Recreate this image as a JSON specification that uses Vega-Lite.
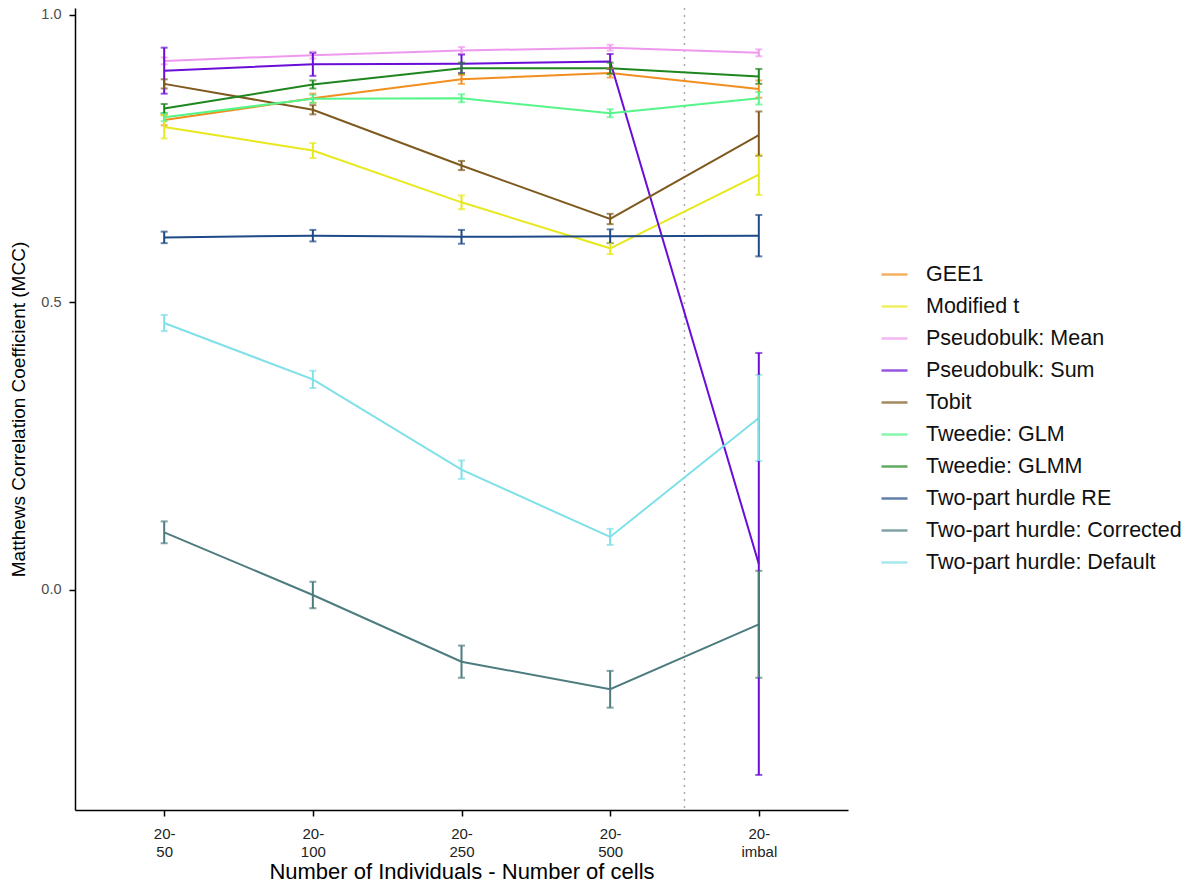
{
  "$schema": "https://vega.github.io/schema/vega-lite/v6.json",
  "width": 773,
  "height": 802,
  "autosize": "none",
  "padding": {"left": 75, "top": 8, "right": 349, "bottom": 75},
  "background": "white",
  "config": {
    "view": {"stroke": null},
    "font": "Liberation Sans",
    "axis": {"grid": false, "domainColor": "black", "domainWidth": 1.5, "tickColor": "black", "tickWidth": 1.5, "tickSize": 6, "labelFont": "Liberation Sans", "titleFont": "Liberation Sans", "titleFontWeight": "normal", "titleColor": "black"}
  },
  "data": {"values": [
    {"series": "GEE1", "x": 1, "mcc": 0.817, "lo": 0.808, "hi": 0.826},
    {"series": "GEE1", "x": 2, "mcc": 0.855, "lo": 0.847, "hi": 0.863},
    {"series": "GEE1", "x": 3, "mcc": 0.888, "lo": 0.880, "hi": 0.896},
    {"series": "GEE1", "x": 4, "mcc": 0.899, "lo": 0.891, "hi": 0.907},
    {"series": "GEE1", "x": 5, "mcc": 0.871, "lo": 0.856, "hi": 0.886},
    {"series": "Modified t", "x": 1, "mcc": 0.805, "lo": 0.785, "hi": 0.825},
    {"series": "Modified t", "x": 2, "mcc": 0.764, "lo": 0.751, "hi": 0.777},
    {"series": "Modified t", "x": 3, "mcc": 0.674, "lo": 0.662, "hi": 0.686},
    {"series": "Modified t", "x": 4, "mcc": 0.594, "lo": 0.584, "hi": 0.604},
    {"series": "Modified t", "x": 5, "mcc": 0.722, "lo": 0.687, "hi": 0.757},
    {"series": "Pseudobulk: Mean", "x": 1, "mcc": 0.920, "lo": 0.914, "hi": 0.926},
    {"series": "Pseudobulk: Mean", "x": 2, "mcc": 0.930, "lo": 0.924, "hi": 0.936},
    {"series": "Pseudobulk: Mean", "x": 3, "mcc": 0.938, "lo": 0.932, "hi": 0.944},
    {"series": "Pseudobulk: Mean", "x": 4, "mcc": 0.943, "lo": 0.938, "hi": 0.948},
    {"series": "Pseudobulk: Mean", "x": 5, "mcc": 0.934, "lo": 0.928, "hi": 0.940},
    {"series": "Pseudobulk: Sum", "x": 1, "mcc": 0.903, "lo": 0.863, "hi": 0.943},
    {"series": "Pseudobulk: Sum", "x": 2, "mcc": 0.914, "lo": 0.894, "hi": 0.934},
    {"series": "Pseudobulk: Sum", "x": 3, "mcc": 0.915, "lo": 0.899, "hi": 0.931},
    {"series": "Pseudobulk: Sum", "x": 4, "mcc": 0.919, "lo": 0.906, "hi": 0.932},
    {"series": "Pseudobulk: Sum", "x": 5, "mcc": 0.045, "lo": -0.322, "hi": 0.412},
    {"series": "Tobit", "x": 1, "mcc": 0.880, "lo": 0.872, "hi": 0.888},
    {"series": "Tobit", "x": 2, "mcc": 0.835, "lo": 0.827, "hi": 0.843},
    {"series": "Tobit", "x": 3, "mcc": 0.738, "lo": 0.730, "hi": 0.746},
    {"series": "Tobit", "x": 4, "mcc": 0.645, "lo": 0.636, "hi": 0.654},
    {"series": "Tobit", "x": 5, "mcc": 0.791, "lo": 0.755, "hi": 0.832},
    {"series": "Tweedie: GLM", "x": 1, "mcc": 0.822, "lo": 0.815, "hi": 0.829},
    {"series": "Tweedie: GLM", "x": 2, "mcc": 0.854, "lo": 0.847, "hi": 0.861},
    {"series": "Tweedie: GLM", "x": 3, "mcc": 0.855, "lo": 0.848, "hi": 0.862},
    {"series": "Tweedie: GLM", "x": 4, "mcc": 0.829, "lo": 0.822, "hi": 0.836},
    {"series": "Tweedie: GLM", "x": 5, "mcc": 0.855, "lo": 0.844, "hi": 0.866},
    {"series": "Tweedie: GLMM", "x": 1, "mcc": 0.837, "lo": 0.829, "hi": 0.845},
    {"series": "Tweedie: GLMM", "x": 2, "mcc": 0.879, "lo": 0.872, "hi": 0.886},
    {"series": "Tweedie: GLMM", "x": 3, "mcc": 0.907, "lo": 0.897, "hi": 0.917},
    {"series": "Tweedie: GLMM", "x": 4, "mcc": 0.907, "lo": 0.897, "hi": 0.917},
    {"series": "Tweedie: GLMM", "x": 5, "mcc": 0.893, "lo": 0.880, "hi": 0.906},
    {"series": "Two-part hurdle RE", "x": 1, "mcc": 0.613, "lo": 0.603, "hi": 0.623},
    {"series": "Two-part hurdle RE", "x": 2, "mcc": 0.616, "lo": 0.606, "hi": 0.626},
    {"series": "Two-part hurdle RE", "x": 3, "mcc": 0.614, "lo": 0.602, "hi": 0.626},
    {"series": "Two-part hurdle RE", "x": 4, "mcc": 0.615, "lo": 0.603, "hi": 0.627},
    {"series": "Two-part hurdle RE", "x": 5, "mcc": 0.616, "lo": 0.580, "hi": 0.652},
    {"series": "Two-part hurdle: Corrected", "x": 1, "mcc": 0.100, "lo": 0.081, "hi": 0.119},
    {"series": "Two-part hurdle: Corrected", "x": 2, "mcc": -0.009, "lo": -0.032, "hi": 0.014},
    {"series": "Two-part hurdle: Corrected", "x": 3, "mcc": -0.125, "lo": -0.153, "hi": -0.097},
    {"series": "Two-part hurdle: Corrected", "x": 4, "mcc": -0.173, "lo": -0.205, "hi": -0.141},
    {"series": "Two-part hurdle: Corrected", "x": 5, "mcc": -0.060, "lo": -0.153, "hi": 0.033},
    {"series": "Two-part hurdle: Default", "x": 1, "mcc": 0.464, "lo": 0.450, "hi": 0.478},
    {"series": "Two-part hurdle: Default", "x": 2, "mcc": 0.366, "lo": 0.351, "hi": 0.381},
    {"series": "Two-part hurdle: Default", "x": 3, "mcc": 0.209, "lo": 0.193, "hi": 0.225},
    {"series": "Two-part hurdle: Default", "x": 4, "mcc": 0.092, "lo": 0.078, "hi": 0.106},
    {"series": "Two-part hurdle: Default", "x": 5, "mcc": 0.299, "lo": 0.224, "hi": 0.374}
  ]},
  "layer": [
    {
      "data": {"values": [{"sep": 4.5}]},
      "mark": {"type": "rule", "color": "#AAAAAA", "strokeWidth": 1.5, "strokeDash": [2, 5]},
      "encoding": {"x": {"field": "sep", "type": "quantitative", "scale": {"domain": [0.4, 5.6], "nice": false, "zero": false}}}
    },
    {
      "mark": {"type": "line", "strokeWidth": 2},
      "encoding": {
        "x": {"field": "x", "type": "quantitative", "scale": {"domain": [0.4, 5.6], "nice": false, "zero": false},
          "axis": {"values": [1, 2, 3, 4, 5], "title": "Number of Individuals - Number of cells", "titleFontSize": 22, "titlePadding": 2,
            "labelExpr": "['20-', ['50','100','250','500','imbal'][datum.value-1]]", "labelFontSize": 15, "labelColor": "#222222", "labelLineHeight": 18, "labelPadding": 10}},
        "y": {"field": "mcc", "type": "quantitative", "scale": {"domain": [-0.383, 1.012], "nice": false, "zero": false},
          "axis": {"values": [0, 0.5, 1], "format": ".1f", "title": "Matthews Correlation Coefficient (MCC)", "titleFontSize": 19, "titlePadding": 12, "labelFontSize": 14.5, "labelColor": "#4d4d4d", "labelPadding": 8}},
        "color": {"field": "series", "type": "nominal",
          "scale": {"domain": ["GEE1", "Modified t", "Pseudobulk: Mean", "Pseudobulk: Sum", "Tobit", "Tweedie: GLM", "Tweedie: GLMM", "Two-part hurdle RE", "Two-part hurdle: Corrected", "Two-part hurdle: Default"],
            "range": ["#F28E1E", "#E8E81E", "#EE99EE", "#6A0DD6", "#7F5A1E", "#55F58A", "#1E861E", "#1E4A87", "#4D7C7F", "#7FE0E8"]},
          "legend": {"title": null, "orient": "none", "legendX": 805, "legendY": 252, "symbolType": "stroke", "symbolSize": 676, "symbolStrokeWidth": 2.5, "rowPadding": 7, "labelFontSize": 21.5, "labelLimit": 0, "labelFont": "Liberation Sans", "labelColor": "#111111", "labelOffset": 17}}
      }
    },
    {
      "mark": {"type": "errorbar", "thickness": 2, "ticks": {"size": 7, "thickness": 2}},
      "encoding": {
        "x": {"field": "x", "type": "quantitative"},
        "y": {"field": "lo", "type": "quantitative", "title": "Matthews Correlation Coefficient (MCC)"},
        "y2": {"field": "hi"},
        "color": {"field": "series", "type": "nominal"}
      }
    }
  ]
}
